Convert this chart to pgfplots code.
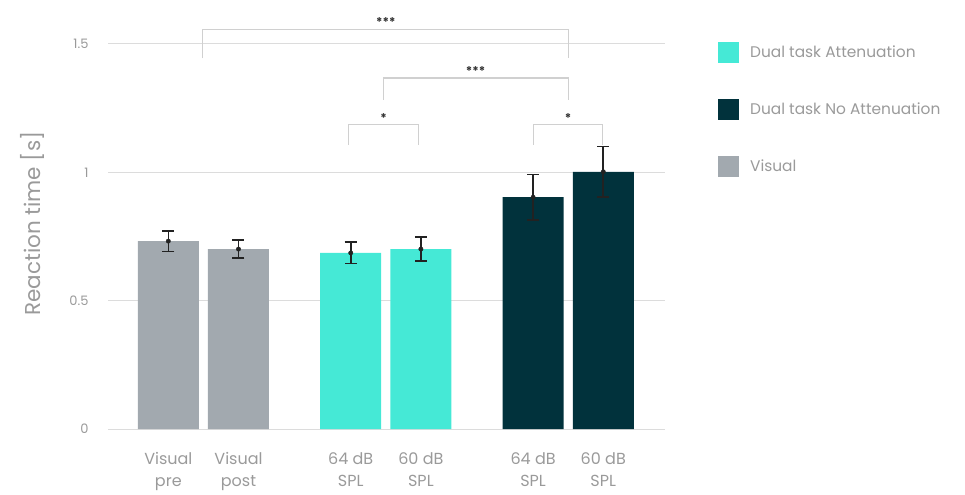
\documentclass[border=0pt]{standalone}
\usepackage{fontspec}
\setmainfont{Poppins}
\usepackage{pgfplots}
\pgfplotsset{compat=1.18}
\definecolor{cteal}{HTML}{45E9D6}
\definecolor{cdark}{HTML}{01323C}
\definecolor{cgray}{HTML}{A2A9AF}
\definecolor{ctext}{HTML}{9A9A9A}
\definecolor{cgrid}{HTML}{DCDCDC}
\definecolor{cbr}{HTML}{D0D0D0}
\definecolor{cerr}{HTML}{222222}
\definecolor{cstar}{HTML}{333333}
\pgfplotsset{
 sqlegend/.style={legend image code/.code={\fill[##1] (0pt,-10.5pt) rectangle (21pt,10.5pt);}},
 mybar/.style={ybar, bar width=0.87, bar shift=0pt, draw=none, sqlegend,
  error bars/y dir=both, error bars/y explicit,
  error bars/error bar style={line width=1.6pt, color=cerr},
  error bars/error mark options={rotate=90, mark size=6pt, line width=1.6pt, color=cerr}},
}
\begin{document}
\begin{tikzpicture}
\path (0pt,0pt) rectangle (965pt,489pt);
\begin{axis}[
 at={(108pt,60pt)}, anchor=south west,
 scale only axis, width=557pt, height=410.7pt,
 xmin=-0.86, xmax=7.08, ymin=0, ymax=1.6,
 clip=false,
 axis line style={draw=none},
 /pgf/number format/assume math mode=true,
 ytick={0,0.5,1,1.5}, yticklabels={0,0.5,1,1.5},
 ymajorgrids, grid style={cgrid, line width=1pt},
 major tick length=0pt,
 xtick={0,1,2.6,3.6,5.2,6.2},
 xticklabels={Visual\\pre, Visual\\post, 64 dB\\SPL, 60 dB\\SPL, 64 dB\\SPL, 60 dB\\SPL},
 xticklabel style={align=center, font=\fontsize{16}{22}\selectfont, text=ctext, yshift=-20pt},
 yticklabel style={font=\fontsize{13}{15}\selectfont, text=ctext, xshift=-16pt},
 ylabel={Reaction time [s]},
 every axis y label/.style={at={(axis description cs:-0.135,0.5)}, rotate=90, anchor=center, font=\fontsize{21.5}{24}\selectfont, text=ctext},
 legend style={draw=none, fill=none, at={(axis description cs:1.095,0.943)}, anchor=north west,
   inner sep=0pt, row sep=36pt, column sep=11pt, font=\fontsize{15.4}{18}\selectfont, text=ctext,
   nodes={inner sep=0pt}},
 legend cell align=left,
]
\addplot[fill=cteal, mybar]
  coordinates {(2.6,0.686) +- (0,0.042) (3.6,0.701) +- (0,0.047)};
\addlegendentry{Dual task Attenuation}
\addplot[fill=cdark, mybar]
  coordinates {(5.2,0.903) +- (0,0.088) (6.2,1.002) +- (0,0.098)};
\addlegendentry{Dual task No Attenuation}
\addplot[fill=cgray, mybar]
  coordinates {(0,0.732) +- (0,0.04) (1,0.701) +- (0,0.035)};
\addlegendentry{Visual}
\addplot[only marks, mark=*, mark size=2.2pt, color=cerr, forget plot]
  coordinates {(0,0.732) (1,0.701) (2.6,0.686) (3.6,0.701) (5.2,0.903) (6.2,1.002)};
% significance brackets
\draw[cbr, line width=1.3pt] (axis cs:0.49,1.444) |- (axis cs:5.70,1.557) -- (axis cs:5.70,1.444);
\draw[cbr, line width=1.3pt] (axis cs:3.07,1.282) |- (axis cs:5.70,1.367) -- (axis cs:5.70,1.282);
\draw[cbr, line width=1.3pt] (axis cs:2.573,1.108) |- (axis cs:3.566,1.185) -- (axis cs:3.566,1.108);
\draw[cbr, line width=1.3pt] (axis cs:5.205,1.108) |- (axis cs:6.193,1.185) -- (axis cs:6.193,1.108);
\node[font=\bfseries\fontsize{12}{12}\selectfont, text=cstar] at (axis cs:3.1,1.585) {***};
\node[font=\bfseries\fontsize{12}{12}\selectfont, text=cstar] at (axis cs:4.38,1.394) {***};
\node[font=\bfseries\fontsize{12}{12}\selectfont, text=cstar] at (axis cs:3.07,1.211) {*};
\node[font=\bfseries\fontsize{12}{12}\selectfont, text=cstar] at (axis cs:5.70,1.211) {*};
\end{axis}
\end{tikzpicture}
\end{document}
